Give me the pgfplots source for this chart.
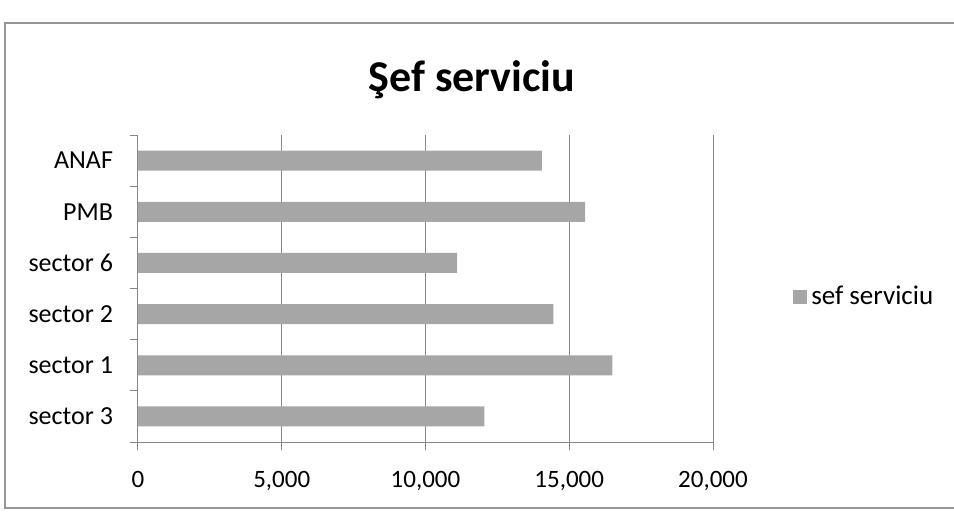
\documentclass[border=0pt]{standalone}
\usepackage{fontspec}
\setmainfont{Carlito}
\usepackage{pgfplots}
\pgfplotsset{compat=1.18}
\definecolor{barcol}{RGB}{166,166,166}
\definecolor{gridcol}{RGB}{135,135,135}
\definecolor{framecol}{RGB}{150,150,150}

\begin{document}
\begin{tikzpicture}
\useasboundingbox (0,0) rectangle (477pt,255.5pt);
% outer chart frame, open on the right (cut off in the scan)
\draw[framecol, line width=0.6pt] (476.9pt,244pt) -- (2.5pt,244pt) -- (2.5pt,1.5pt) -- (476.9pt,1.5pt);
\node[font=\bfseries\fontsize{22}{26}\selectfont] at (236pt,215.5pt) {Şef serviciu};
\begin{axis}[
  at={(69pt,34.5pt)}, anchor=south west,
  scale only axis, width=287.5pt, height=153.5pt,
  xbar, bar width=10pt,
  xmin=0, xmax=20000, ymin=-0.5, ymax=5.5,
  axis x line*=bottom, axis y line*=left,
  axis line style={gridcol, line width=0.5pt},
  tick align=outside, major tick length=4pt,
  tick style={gridcol, line width=0.5pt},
  xtick={0,5000,10000,15000,20000},
  scaled x ticks=false,
  /pgf/number format/.cd, 1000 sep={,}, assume math mode=true, /pgfplots/.cd,
  xticklabel style={font=\fontsize{12.5}{14}\selectfont, yshift=-7pt},
  xmajorgrids, grid style={gridcol, line width=0.5pt},
  ytick={-0.5,0.5,...,5.5},
  yticklabels={,,,,,,},
  extra y ticks={0,1,2,3,4,5},
  extra y tick labels={sector 3, sector 1, sector 2, sector 6, PMB, ANAF},
  extra y tick style={major tick length=0pt},
  yticklabel style={font=\fontsize{13}{15}\selectfont, xshift=-9pt},
  legend style={at={(1.139,0.472)}, anchor=west, draw=none, fill=none,
    inner sep=0pt, font=\fontsize{13.5}{15}\selectfont},
  legend image code/.code={\fill[barcol] (-2pt,-3.5pt) rectangle (5pt,3.5pt);},
]
  \addplot[fill=barcol, draw=none]
    coordinates {(12050,0) (16500,1) (14450,2) (11100,3) (15550,4) (14050,5)};
  \addlegendentry{sef serviciu}
\end{axis}
\end{tikzpicture}
\end{document}
